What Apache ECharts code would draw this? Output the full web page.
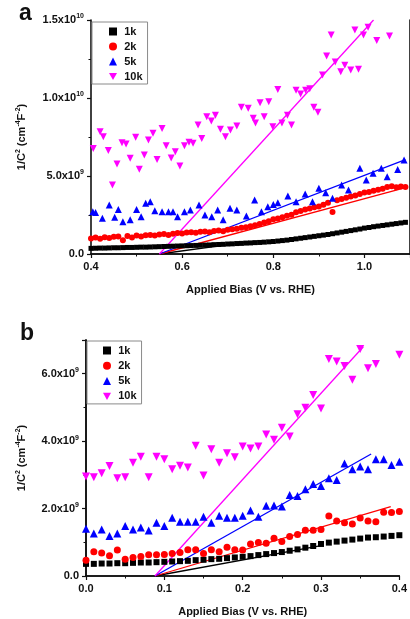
<!DOCTYPE html>
<html><head><meta charset="utf-8">
<script src="https://cdn.jsdelivr.net/npm/echarts@6/dist/echarts.min.js"></script>
<style>html,body{margin:0;padding:0;background:#fff}#c{width:410px;height:619px}</style>
</head><body><div id="c"></div>
<script>
// ---------- data (y in units of 1e9 cm^4 F^-2) ----------
const seriesNames = ['1k', '2k', '5k', '10k'];
const xTicksA = [0.4, 0.6, 0.8, 1.0];
const xTicksB = [0.0, 0.1, 0.2, 0.3, 0.4];

// Panel a
const aBias = [0.40,0.41,0.42,0.43,0.44,0.45,0.46,0.47,0.48,0.49,0.50,0.51,0.52,0.53,0.54,0.55,0.56,0.57,0.58,0.59,
  0.60,0.61,0.62,0.63,0.64,0.65,0.66,0.67,0.68,0.69,0.70,0.71,0.72,0.73,0.74,0.75,0.76,0.77,0.78,0.79,
  0.80,0.81,0.82,0.83,0.84,0.85,0.86,0.87,0.88,0.89,0.90,0.91,0.92,0.93,0.94,0.95,0.96,0.97,0.98,0.99,
  1.00,1.01,1.02,1.03,1.04,1.05,1.06,1.07,1.08,1.09];
const a1k = [0.36,0.37,0.38,0.38,0.39,0.40,0.40,0.41,0.42,0.42,0.43,0.44,0.44,0.45,0.46,0.47,0.48,0.49,0.50,0.51,
  0.52,0.53,0.54,0.55,0.56,0.57,0.58,0.60,0.61,0.62,0.64,0.65,0.67,0.68,0.70,0.71,0.73,0.74,0.76,0.78,
  0.80,0.83,0.86,0.89,0.93,0.97,1.01,1.05,1.09,1.13,1.17,1.21,1.25,1.30,1.35,1.40,1.45,1.50,1.55,1.60,
  1.66,1.70,1.75,1.79,1.83,1.87,1.91,1.95,1.99,2.03];
const a2k = [1.00,1.05,0.98,1.08,1.02,1.10,1.12,0.88,1.15,1.05,1.18,1.12,1.20,1.22,1.18,1.25,1.28,1.22,1.30,1.35,
  1.32,1.38,1.40,1.36,1.42,1.45,1.40,1.48,1.50,1.46,1.55,1.58,1.62,1.68,1.72,1.78,1.85,1.92,2.02,2.10,
  2.22,2.28,2.35,2.45,2.52,2.68,2.75,2.85,2.92,3.00,3.05,3.15,3.28,2.70,3.45,3.52,3.60,3.68,3.75,3.85,
  3.95,3.98,4.05,4.12,4.18,4.30,4.35,4.28,4.32,4.30];
const a5kBias = [0.404,0.41,0.425,0.44,0.452,0.46,0.47,0.486,0.50,0.51,0.52,0.53,0.54,0.556,0.57,0.58,0.59,0.605,0.618,0.637,
  0.65,0.665,0.678,0.69,0.705,0.72,0.741,0.759,0.774,0.788,0.80,0.81,0.832,0.85,0.87,0.886,0.90,0.915,0.93,0.95,
  0.965,0.99,1.004,1.019,1.037,1.05,1.073,1.087];
const a5k = [2.71,2.66,2.29,3.14,2.35,2.86,2.07,2.20,2.86,2.39,3.25,3.35,2.78,2.71,2.71,2.71,2.39,2.71,2.82,3.14,
  2.50,2.39,2.82,2.20,2.93,2.82,2.44,3.46,2.71,3.03,3.18,3.29,3.72,3.35,3.85,3.35,4.21,3.93,3.57,4.42,
  4.10,5.49,4.74,5.17,5.49,4.95,5.42,6.03];
const a10kBias = [0.405,0.42,0.427,0.438,0.447,0.457,0.468,0.477,0.486,0.498,0.506,0.517,0.526,0.536,0.545,0.556,0.565,0.576,0.585,0.595,
  0.605,0.615,0.624,0.635,0.643,0.654,0.664,0.673,0.684,0.695,0.706,0.72,0.73,0.745,0.756,0.761,0.771,0.78,0.79,0.799,
  0.81,0.819,0.831,0.84,0.85,0.86,0.871,0.88,0.889,0.898,0.908,0.917,0.927,0.936,0.948,0.957,0.97,0.979,0.987,0.998,
  1.008,1.027,1.055];
const a10k = [6.77,7.84,7.52,6.63,4.42,5.77,7.13,7.05,6.13,7.48,5.43,6.34,7.31,7.74,6.06,8.04,6.94,6.15,6.56,5.64,
  6.94,7.16,7.10,8.27,7.41,8.80,8.52,8.90,7.99,7.52,7.95,8.20,9.40,9.34,8.70,8.39,9.70,8.80,9.76,8.16,
  10.55,8.39,8.90,8.27,10.50,10.26,10.50,10.60,9.40,9.08,11.47,12.69,14.04,12.31,11.69,12.10,11.80,14.36,11.84,14.04,
  14.53,13.68,13.97];
// linear fits panel a: [bias0, val0, bias1, val1]
const aFit1k = [0.55, 0, 0.75, 0.80];
const aFit2k = [0.55, 0, 1.09, 4.25];
const aFit5k = [0.55, 0, 1.09, 6.05];
const aFit10k = [0.55, 0, 1.02, 15.0];

// Panel b
const bBias = [0.00,0.01,0.02,0.03,0.04,0.05,0.06,0.07,0.08,0.09,0.10,0.11,0.12,0.13,0.14,0.15,0.16,0.17,0.18,0.19,
  0.20,0.21,0.22,0.23,0.24,0.25,0.26,0.27,0.28,0.29,0.30,0.31,0.32,0.33,0.34,0.35,0.36,0.37,0.38,0.39,0.40];
const b1k = [0.36,0.36,0.37,0.37,0.38,0.38,0.39,0.40,0.40,0.41,0.42,0.43,0.44,0.45,0.47,0.48,0.50,0.51,0.53,0.55,
  0.57,0.59,0.62,0.65,0.68,0.71,0.75,0.79,0.84,0.89,0.95,0.99,1.02,1.05,1.08,1.11,1.14,1.15,1.17,1.19,1.21];
const b2k = [0.47,0.72,0.68,0.60,0.77,0.50,0.55,0.58,0.63,0.63,0.64,0.67,0.70,0.78,0.78,0.67,0.78,0.72,0.85,0.78,
  0.77,0.95,0.99,0.97,1.12,1.02,1.17,1.23,1.36,1.36,1.38,1.78,1.63,1.58,1.54,1.72,1.63,1.61,1.89,1.88,1.91];
const b5k = [1.40,1.26,1.38,1.19,1.26,1.48,1.38,1.44,1.35,1.58,1.48,1.73,1.61,1.61,1.61,1.76,1.58,1.79,1.73,1.73,
  1.79,1.94,1.76,2.08,2.09,2.06,2.40,2.37,2.57,2.73,2.67,2.90,2.85,3.34,3.17,3.25,3.17,3.46,3.46,3.29,3.39];
const b10k = [2.95,2.93,3.05,3.26,2.90,2.93,3.36,3.54,2.93,3.54,3.46,3.17,3.27,3.22,3.86,2.98,3.76,3.36,3.64,3.52,
  3.84,3.78,3.84,4.20,4.04,4.40,4.14,4.80,4.99,5.37,4.97,6.44,6.36,6.23,5.82,6.73,6.16,6.29,null,null,6.56];
const bFit1k = [0.088, 0, 0.30, 0.90];
const bFit2k = [0.088, 0, 0.389, 2.06];
const bFit5k = [0.088, 0, 0.364, 3.62];
const bFit10k = [0.088, 0, 0.354, 6.80];

// ---------- styling ----------
const colors = ['#000000', '#ff0000', '#0000ff', '#ff00ff'];
const symbols = ['rect', 'circle', 'triangle', 'path://M0,0L10,0L5,9Z'];
const FONT = 'Liberation Sans, Arial, sans-serif';
const sup = { fontSize: 7, fontWeight: 'bold', fontFamily: FONT, verticalAlign: 'top', lineHeight: 8, color: '#111' };

function sci(v) {
  if (Math.abs(v) < 1e-12) return '0.0';
  const n = v * 1e9;
  const e = Math.floor(Math.log10(n) + 1e-9);
  const m = (n / Math.pow(10, e)).toFixed(1);
  return m + 'x10{s|' + e + '}';
}

function pairs(xs, ys) { return xs.map((x, i) => [x, ys[i] == null ? '-' : ys[i]]); }
function fit(f) { return [[f[0], f[1]], [f[2], f[3]]]; }

const axisLineStyle = { show: true, lineStyle: { color: '#111', width: 1.6 } };

function xAxisMain(grid, min, max, interval) {
  return {
    type: 'value', gridIndex: grid, min: min, max: max, interval: interval,
    axisLine: axisLineStyle,
    axisTick: { show: true, inside: false, length: 4, lineStyle: { color: '#111', width: 1.2 } },
    minorTick: { show: true, splitNumber: 2, length: 2.5, lineStyle: { color: '#111', width: 1 } },
    splitLine: { show: false },
    axisLabel: { margin: 7, fontSize: 11, fontWeight: 'bold', fontFamily: FONT, color: '#111',
      showMaxLabel: max === 0.4, formatter: v => v.toFixed(1) },
    name: 'Applied Bias (V vs. RHE)', nameLocation: 'middle', nameGap: 30,
    nameTextStyle: { fontSize: 11, fontWeight: 'bold', fontFamily: FONT, color: '#111' }
  };
}
function yAxisMain(grid, min, max, interval) {
  return {
    type: 'value', gridIndex: grid, min: min, max: max, interval: interval,
    axisLine: axisLineStyle,
    axisTick: { show: true, inside: false, length: 4, lineStyle: { color: '#111', width: 1.2 } },
    minorTick: { show: true, splitNumber: 2, length: 2.5, lineStyle: { color: '#111', width: 1 } },
    splitLine: { show: false },
    axisLabel: { margin: 7, fontSize: 11, fontWeight: 'bold', fontFamily: FONT, color: '#111',
      lineHeight: 14, showMaxLabel: max === 15, formatter: sci, rich: { s: sup } },
    name: '1/C{s|2} (cm{s|-4}F{s|-2})', nameLocation: 'middle', nameRotate: 90,
    nameGap: grid === 0 ? 62 : 57,
    nameTextStyle: { fontSize: 11, fontWeight: 'bold', fontFamily: FONT, color: '#111', lineHeight: 14, rich: { s: sup } }
  };
}
function frameAxis(grid, pos, min, max) {
  return {
    type: 'value', gridIndex: grid, position: pos, min: min, max: max,
    axisLine: axisLineStyle, axisTick: { show: false }, axisLabel: { show: false }, splitLine: { show: false }
  };
}

const series = [];
const panels = [
  { x: 0, y: 0, sets: [pairs(aBias, a1k), pairs(aBias, a2k), pairs(a5kBias, a5k), pairs(a10kBias, a10k)],
    fits: [aFit1k, aFit2k, aFit5k, aFit10k], sizes: [5, 6, 7, 7] },
  { x: 2, y: 2, sets: [pairs(bBias, b1k), pairs(bBias, b2k), pairs(bBias, b5k), pairs(bBias, b10k)],
    fits: [bFit1k, bFit2k, bFit5k, bFit10k], sizes: [6, 7, 8, 8] }
];
panels.forEach(p => {
  p.fits.forEach((f, i) => {
    series.push({ type: 'line', name: 'fit' + p.x + i, xAxisIndex: p.x, yAxisIndex: p.y, data: fit(f),
      symbol: 'none', lineStyle: { color: colors[i], width: 1.3 }, silent: true, z: 1 });
  });
  p.sets.forEach((d, i) => {
    series.push({ type: 'scatter', name: seriesNames[i], xAxisIndex: p.x, yAxisIndex: p.y, data: d,
      symbol: symbols[i], symbolSize: p.sizes[i], itemStyle: { color: colors[i], opacity: 1 }, z: 2 + i });
  });
});

const legendItems = seriesNames.map((n, i) => ({ name: n, icon: symbols[i] }));
const legendBase = {
  data: legendItems, orient: 'vertical', borderColor: '#8a8a8a', borderWidth: 1,
  padding: [4, 5, 2, 17], itemGap: 4, itemWidth: 8, itemHeight: 8, selectedMode: false,
  backgroundColor: '#fff', formatter: n => '\u2009' + n,
  textStyle: { fontWeight: 'bold', fontSize: 11, fontFamily: FONT, color: '#111' }
};

const option = {
  animation: false,
  backgroundColor: '#ffffff',
  grid: [
    { left: 91, top: 20, width: 322, height: 234 },
    { left: 86, top: 340, width: 322, height: 236 }
  ],
  xAxis: [
    xAxisMain(0, 0.4, 1.1, 0.2),
    frameAxis(0, 'top', 0.4, 1.1),
    xAxisMain(1, 0, 0.4, 0.1),
    frameAxis(1, 'top', 0, 0.4)
  ],
  yAxis: [
    yAxisMain(0, 0, 15, 5),
    frameAxis(0, 'right', 0, 15),
    yAxisMain(1, 0, 7, 2),
    frameAxis(1, 'right', 0, 7)
  ],
  legend: [
    Object.assign({}, legendBase, { left: 92, top: 22 }),
    Object.assign({}, legendBase, { left: 87, top: 341, itemGap: 4.3, padding: [4, 5, 2, 16] })
  ],
  graphic: [
    { type: 'text', left: 19, top: 2, style: { text: 'a', font: 'bold 23px ' + FONT, fill: '#111' } },
    { type: 'text', left: 20, top: 322, style: { text: 'b', font: 'bold 23px ' + FONT, fill: '#111' } }
  ],
  series: series
};

const chart = echarts.init(document.getElementById('c'), null, { renderer: 'canvas' });
chart.setOption(option);
</script></body></html>
